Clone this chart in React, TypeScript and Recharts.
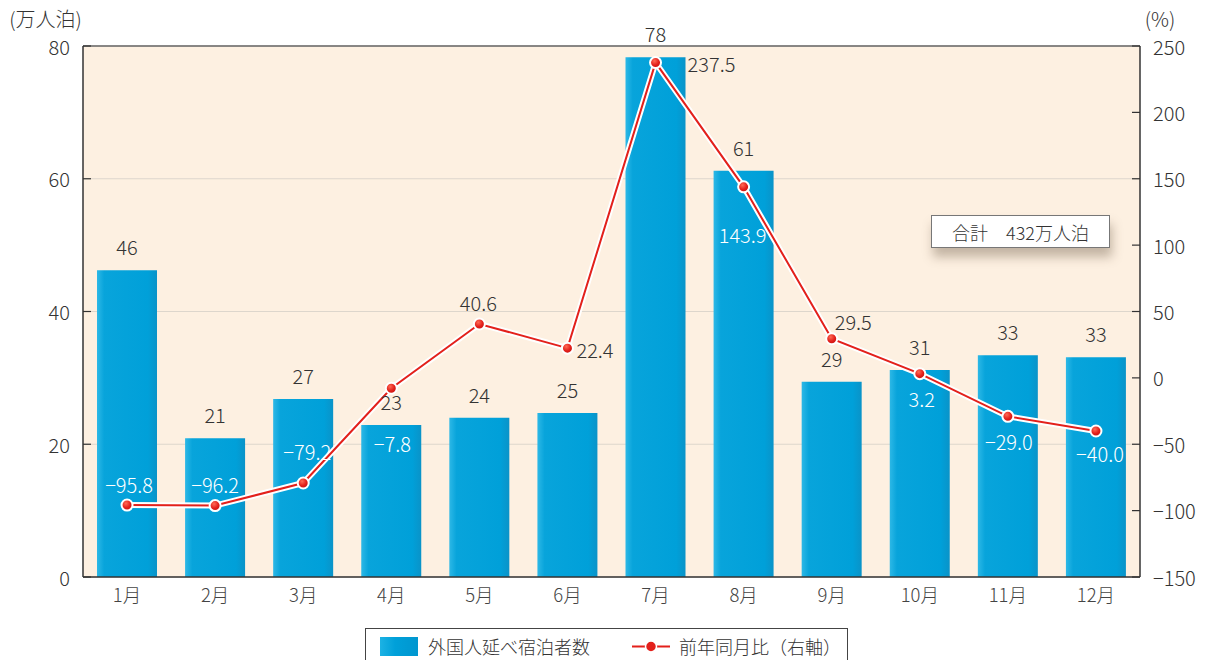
import React from 'react';
import {
  ComposedChart, Bar, Line, XAxis, YAxis, CartesianGrid, LabelList, Legend, ReferenceLine, Label,
} from 'recharts';

const months = ['1月', '2月', '3月', '4月', '5月', '6月', '7月', '8月', '9月', '10月', '11月', '12月'];
const guests = [46.2, 20.9, 26.8, 22.9, 24.0, 24.7, 78.3, 61.2, 29.4, 31.2, 33.4, 33.1];
const yoy = [-95.8, -96.2, -79.2, -7.8, 40.6, 22.4, 237.5, 143.9, 29.5, 3.2, -29.0, -40.0];
const leftTicks = [0, 20, 40, 60, 80];
const rightTicks = [-150, -100, -50, 0, 50, 100, 150, 200, 250];
const totalLabel = '合計　432万人泊';
const barName = '外国人延べ宿泊者数';
const lineName = '前年同月比（右軸）';

// label placement styles for the line values (not data)
const lineLabelStyle = [
  { dx: 2, dy: -21, anchor: 'middle', color: '#fff' },
  { dx: 0, dy: -21, anchor: 'middle', color: '#fff' },
  { dx: 4, dy: -32, anchor: 'middle', color: '#fff' },
  { dx: 1, dy: 55, anchor: 'middle', color: '#fff' },
  { dx: -1, dy: -21, anchor: 'middle', color: '#333' },
  { dx: 9, dy: 1, anchor: 'start', color: '#333' },
  { dx: 32, dy: 1, anchor: 'start', color: '#333' },
  { dx: -1, dy: 48, anchor: 'middle', color: '#fff' },
  { dx: 3, dy: -17, anchor: 'start', color: '#333' },
  { dx: 2, dy: 25, anchor: 'middle', color: '#fff' },
  { dx: 1, dy: 25, anchor: 'middle', color: '#fff' },
  { dx: 4, dy: 23, anchor: 'middle', color: '#fff' },
];

const data = months.map((m, i) => ({ month: m, guests: guests[i], yoy: yoy[i] }));

const FONT = '"Noto Sans CJK JP", "Noto Sans", sans-serif';
const FW = 300;

const fmtSigned = (v: number, digits: number) =>
  v < 0 ? '\u2212' + Math.abs(v).toFixed(digits) : v.toFixed(digits);

const LeftTick = (props: any) => {
  const { x, y, payload } = props;
  return (
    <g>
      <line x1={x + 13} x2={x + 21} y1={y} y2={y} stroke="#333" strokeWidth={1.2} />
      <text x={x} y={y} textAnchor="end" dominantBaseline="central" fontSize={20} fontWeight={FW} fill="#333" fontFamily={FONT}>
        {payload.value}
      </text>
    </g>
  );
};

const RightTick = (props: any) => {
  const { x, y, payload } = props;
  return (
    <g>
      <line x1={x - 13} x2={x - 21} y1={y} y2={y} stroke="#333" strokeWidth={1.2} />
      <text x={x} y={y} textAnchor="start" dominantBaseline="central" fontSize={20} fontWeight={FW} fill="#333" fontFamily={FONT}>
        {fmtSigned(payload.value, 0)}
      </text>
    </g>
  );
};

const LineLabel = (props: any) => {
  const { x, y, value, index } = props;
  const s = lineLabelStyle[index];
  return (
    <text
      x={x + s.dx}
      y={y + s.dy}
      textAnchor={s.anchor}
      dominantBaseline="central"
      fontSize={20}
      fontWeight={FW}
      fill={s.color}
      fontFamily={FONT}
    >
      {fmtSigned(value, 1)}
    </text>
  );
};

const RedDot = (props: any) => {
  const { cx, cy } = props;
  if (cx == null || cy == null) return null;
  return <circle cx={cx} cy={cy} r={5.5} fill="url(#dotGrad)" stroke="#fff" strokeWidth={2} />;
};

const LegendContent = () => (
  <div
    style={{
      border: '1px solid #444',
      height: 40,
      boxSizing: 'border-box',
      display: 'flex',
      alignItems: 'flex-start',
      paddingTop: 8,
      fontFamily: FONT,
      fontWeight: FW,
      fontSize: 18,
      color: '#333',
      background: '#fff',
      whiteSpace: 'nowrap',
    }}
  >
    <span
      style={{
        display: 'inline-block',
        flex: 'none',
        width: 38,
        height: 19,
        marginLeft: 14,
        marginRight: 10,
        background: 'linear-gradient(to right, #1cb2e4, #00a0d9 40%, #0096cf)',
      }}
    />
    <span style={{ lineHeight: '19px' }}>{barName}</span>
    <svg width={38} height={19} style={{ marginLeft: 42, marginRight: 9, flex: 'none' }}>
      <line x1={0} x2={38} y1={9.5} y2={9.5} stroke="#e3201b" strokeWidth={2} />
      <circle cx={19} cy={9.5} r={5.5} fill="#e3201b" stroke="#fff" strokeWidth={1.5} />
    </svg>
    <span style={{ lineHeight: '19px' }}>{lineName}</span>
  </div>
);

export default function App() {
  return (
    <div style={{ position: 'absolute', left: 0, top: 0, width: 1210, height: 660, background: '#fff' }}>
      <ComposedChart
        width={1210}
        height={660}
        data={data}
        margin={{ top: 46, right: 0, bottom: 43, left: 0 }}
        barCategoryGap={28}
      >
        <defs>
          <linearGradient id="barGrad" x1="0" y1="0" x2="1" y2="0">
            <stop offset="0%" stopColor="#2db8e6" />
            <stop offset="12%" stopColor="#08a4db" />
            <stop offset="85%" stopColor="#00a0d9" />
            <stop offset="100%" stopColor="#0a93c8" />
          </linearGradient>
          <radialGradient id="dotGrad" cx="40%" cy="35%" r="65%">
            <stop offset="0%" stopColor="#ff6a55" />
            <stop offset="60%" stopColor="#e3201b" />
            <stop offset="100%" stopColor="#c8130f" />
          </radialGradient>
        </defs>
        <CartesianGrid yAxisId="left" vertical={false} stroke="#ddd6cc" fill="#fdf0e1" />
        <XAxis
          dataKey="month"
          height={40}
          tickLine={false}
          tickSize={0}
          tickMargin={12}
          axisLine={{ stroke: '#333', strokeWidth: 1.5 }}
          tick={{ fontSize: 18.5, fill: '#444', fontFamily: FONT, fontWeight: FW }}
          interval={0}
        />
        <YAxis
          yAxisId="left"
          orientation="left"
          width={83}
          domain={[0, 80]}
          ticks={leftTicks}
          tickLine={false}
          tickSize={0}
          tickMargin={13}
          axisLine={{ stroke: '#333', strokeWidth: 1.5 }}
          tick={<LeftTick />}
          interval={0}
        >
          <Label
            value="(万人泊)"
            position="top"
            offset={19}
            dx={4}
            fontSize={20}
            fontWeight={FW}
            fill="#333"
            fontFamily={FONT}
          />
        </YAxis>
        <YAxis
          yAxisId="right"
          orientation="right"
          width={70}
          domain={[-150, 250]}
          ticks={rightTicks}
          tickLine={false}
          tickSize={0}
          tickMargin={13}
          axisLine={{ stroke: '#333', strokeWidth: 1.5 }}
          tick={<RightTick />}
          interval={0}
        >
          <Label
            value="(%)"
            position="top"
            offset={19}
            dx={-15}
            fontSize={20}
            fontWeight={FW}
            fill="#333"
            fontFamily={FONT}
          />
        </YAxis>
        <ReferenceLine yAxisId="left" y={80} stroke="#666" strokeWidth={1.5} />
        <Bar
          yAxisId="left"
          dataKey="guests"
          name={barName}
          fill="url(#barGrad)"
          barSize={60}
          isAnimationActive={false}
        >
          <LabelList
            dataKey="guests"
            position="top"
            offset={15}
            formatter={(v: any) => Math.round(Number(v)).toString()}
            fontSize={20}
            fontWeight={FW}
            fill="#333"
            fontFamily={FONT}
          />
        </Bar>
        <Line
          yAxisId="right"
          dataKey="yoy"
          stroke="#fff"
          strokeWidth={6}
          dot={false}
          activeDot={false}
          legendType="none"
          isAnimationActive={false}
        />
        <Line
          yAxisId="right"
          dataKey="yoy"
          name={lineName}
          stroke="#e3201b"
          strokeWidth={2}
          dot={<RedDot />}
          activeDot={false}
          isAnimationActive={false}
        >
          <LabelList dataKey="yoy" content={<LineLabel />} />
        </Line>
        <Legend
          layout="horizontal"
          verticalAlign="middle"
          align="center"
          wrapperStyle={{ position: 'absolute', left: 365, top: 628, width: 483, height: 40 }}
          content={<LegendContent />}
        />
      </ComposedChart>
      <div
        style={{
          position: 'absolute',
          left: 931,
          top: 215,
          width: 179,
          height: 33,
          boxSizing: 'border-box',
          border: '1px solid #777',
          background: '#fff',
          boxShadow: '2px 9px 10px rgba(90,70,50,0.35)',
          fontFamily: FONT,
          fontWeight: FW,
          fontSize: 18,
          color: '#333',
          display: 'flex',
          alignItems: 'center',
          justifyContent: 'center',
          whiteSpace: 'nowrap',
        }}
      >
        {totalLabel}
      </div>
    </div>
  );
}
